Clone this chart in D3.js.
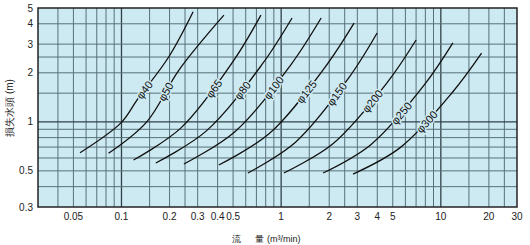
<!DOCTYPE html>
<html>
<head>
<meta charset="utf-8">
<script src="https://cdn.jsdelivr.net/npm/d3@7"></script>
<style>
  body { margin: 0; background: #fff; }
  svg { display: block; font-family: "Liberation Sans", Arial, sans-serif; }
</style>
</head>
<body>
<div id="chart"></div>
<script>
// grid + tick values
var xGrid = [0.04, 0.05, 0.06, 0.07, 0.08, 0.09, 0.1, 0.15, 0.2, 0.25, 0.3, 0.4, 0.5, 0.6, 0.7, 0.8, 0.9,
             1, 1.5, 2, 2.5, 3, 4, 5, 6, 7, 8, 9, 10, 15, 20, 25];
var yGrid = [0.4, 0.5, 0.6, 0.7, 0.8, 0.9, 1, 1.5, 2, 2.5, 3, 4];
var xMajor = [0.1, 1, 10];
var yMajor = [1];
var xTicks = [0.05, 0.1, 0.2, 0.3, 0.4, 0.5, 1, 2, 3, 4, 5, 10, 20, 30];
var yTicks = [0.3, 0.5, 1, 2, 3, 4, 5];

// pipe sizes and their loss curves (flow m3/min, head m)
var sizes = ["40", "50", "65", "80", "100", "125", "150", "200", "250", "300"];
var flows = [
  [0.055, 0.1, 0.125, 0.198, 0.281],
  [0.083, 0.144, 0.229, 0.438],
  [0.119, 0.235, 0.50, 0.747],
  [0.164, 0.339, 0.759, 1.17],
  [0.246, 0.511, 1.15, 1.78],
  [0.407, 0.839, 1.86, 2.86],
  [0.619, 1.23, 2.65, 3.99],
  [1.04, 2.11, 4.61, 7.0],
  [1.83, 3.66, 7.9, 11.9],
  [2.82, 5.59, 11.9, 18.0]
];
var heads = [
  [0.646, 0.993, 1.36, 2.51, 4.74],
  [0.641, 1.0, 2.08, 4.52],
  [0.583, 0.915, 2.35, 4.52],
  [0.559, 0.877, 2.25, 4.34],
  [0.551, 0.867, 2.24, 4.34],
  [0.543, 0.844, 2.13, 4.04],
  [0.485, 0.75, 1.86, 3.51],
  [0.485, 0.734, 1.74, 3.18],
  [0.485, 0.727, 1.69, 3.05],
  [0.478, 0.697, 1.53, 2.64]
];
// head at which each size label sits on its curve
var labelHeads = [1.57, 1.53, 1.6, 1.56, 1.62, 1.53, 1.48, 1.34, 1.13, 1.0];

var W = 530, H = 245;
var m = {left: 38, right: 13, top: 8, bottom: 38};
var bg = "#cde9f2";

var svg = d3.select("#chart").append("svg")
  .attr("width", W).attr("height", H);

var x = d3.scaleLog().domain([0.03, 30]).range([m.left, W - m.right]);
var y = d3.scaleLog().domain([0.3, 5]).range([H - m.bottom, m.top]);

svg.append("rect")
  .attr("x", x(0.03)).attr("y", y(5))
  .attr("width", x(30) - x(0.03)).attr("height", y(0.3) - y(5))
  .attr("fill", bg);

// grid
var grid = svg.append("g");
grid.selectAll(".vx").data(xGrid).enter().append("line")
  .attr("x1", function(d) { return x(d); }).attr("x2", function(d) { return x(d); })
  .attr("y1", y(0.3)).attr("y2", y(5))
  .attr("stroke", function(d) { return xMajor.indexOf(d) >= 0 ? "#2f4248" : "#587179"; })
  .attr("stroke-width", function(d) { return xMajor.indexOf(d) >= 0 ? 1.3 : 1; });
grid.selectAll(".hy").data(yGrid).enter().append("line")
  .attr("y1", function(d) { return y(d); }).attr("y2", function(d) { return y(d); })
  .attr("x1", x(0.03)).attr("x2", x(30))
  .attr("stroke", function(d) { return yMajor.indexOf(d) >= 0 ? "#2f4248" : "#587179"; })
  .attr("stroke-width", function(d) { return yMajor.indexOf(d) >= 0 ? 1.3 : 1; });

// curves
var line = d3.line()
  .x(function(p) { return x(p[0]); })
  .y(function(p) { return y(p[1]); })
  .curve(d3.curveCatmullRom.alpha(0.5));

var curves = svg.append("g");
sizes.forEach(function(s, i) {
  var pts = d3.zip(flows[i], heads[i]);
  var path = curves.append("path")
    .attr("d", line(pts))
    .attr("fill", "none")
    .attr("stroke", "#111")
    .attr("stroke-width", 1.3);

  // find the spot on the curve at the label's head value
  var node = path.node(), len = node.getTotalLength();
  var ty = y(labelHeads[i]), lo = 0, hi = len;
  for (var k = 0; k < 30; k++) {
    var mid = (lo + hi) / 2;
    if (node.getPointAtLength(mid).y > ty) lo = mid; else hi = mid;
  }
  var p = node.getPointAtLength(lo);
  var a = node.getPointAtLength(Math.max(0, lo - 4)), b = node.getPointAtLength(Math.min(len, lo + 4));
  var ang = Math.atan2(b.y - a.y, b.x - a.x) * 180 / Math.PI;

  svg.append("text")
    .attr("transform", "translate(" + p.x + "," + p.y + ") rotate(" + ang + ")")
    .attr("text-anchor", "middle")
    .attr("dy", "0.35em")
    .attr("font-size", 11)
    .attr("fill", "#111")
    .attr("stroke", bg).attr("stroke-width", 3).attr("paint-order", "stroke")
    .text("\u03c6" + s);
});

// frame
svg.append("rect")
  .attr("x", x(0.03)).attr("y", y(5))
  .attr("width", x(30) - x(0.03)).attr("height", y(0.3) - y(5))
  .attr("fill", "none").attr("stroke", "#222").attr("stroke-width", 1.5);

// tick labels
svg.append("g").selectAll("text").data(xTicks).enter().append("text")
  .attr("x", function(d) { return x(d); })
  .attr("y", H - m.bottom + 13)
  .attr("text-anchor", "middle")
  .attr("font-size", 10)
  .attr("fill", "#222")
  .text(function(d) { return d; });

svg.append("g").selectAll("text").data(yTicks).enter().append("text")
  .attr("x", m.left - 5)
  .attr("y", function(d) { return y(d); })
  .attr("dy", "0.35em")
  .attr("text-anchor", "end")
  .attr("font-size", 10)
  .attr("fill", "#222")
  .text(function(d) { return d; });

// axis titles
var xt = svg.append("text")
  .attr("y", 242)
  .attr("font-size", 9)
  .attr("fill", "#222");
xt.append("tspan").attr("x", 232).text("流");
xt.append("tspan").attr("x", 255).text("量");
xt.append("tspan").attr("x", 267).text("(m³/min)");

svg.append("text")
  .attr("transform", "translate(13,108) rotate(-90)")
  .attr("text-anchor", "middle")
  .attr("font-size", 10)
  .attr("fill", "#222")
  .text("損失水頭 (m)");
</script>
</body>
</html>
